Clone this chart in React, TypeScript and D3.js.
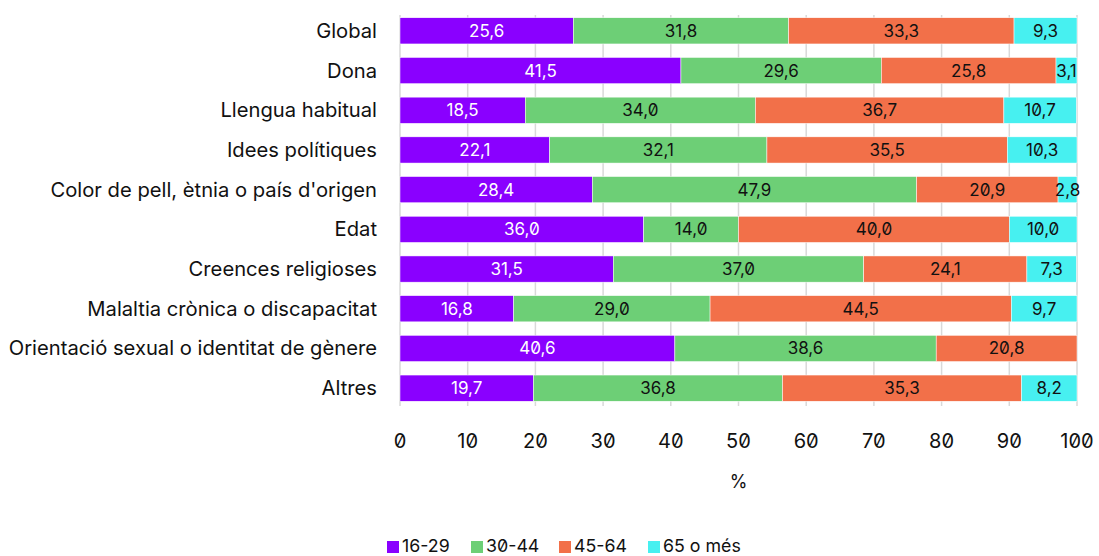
import React from "react";
import * as d3 from "d3";

const categories = [
  "Global",
  "Dona",
  "Llengua habitual",
  "Idees polítiques",
  "Color de pell, ètnia o país d'origen",
  "Edat",
  "Creences religioses",
  "Malaltia crònica o discapacitat",
  "Orientació sexual o identitat de gènere",
  "Altres",
];
const seriesNames = ["16-29", "30-44", "45-64", "65 o més"];
const s1629 = [25.6, 41.5, 18.5, 22.1, 28.4, 36.0, 31.5, 16.8, 40.6, 19.7];
const s3044 = [31.8, 29.6, 34.0, 32.1, 47.9, 14.0, 37.0, 29.0, 38.6, 36.8];
const s4564 = [33.3, 25.8, 36.7, 35.5, 20.9, 40.0, 24.1, 44.5, 20.8, 35.3];
const s65 = [9.3, 3.1, 10.7, 10.3, 2.8, 10.0, 7.3, 9.7, 0, 8.2];
const xTicks = [0, 10, 20, 30, 40, 50, 60, 70, 80, 90, 100];
const colors = ["#8a00ff", "#6dcf76", "#f27049", "#47f0f0"];
const labelColors = ["#ffffff", "#111111", "#111111", "#111111"];

const W = 1099;
const H = 556;
const M = { left: 400, right: 1077, top: 11, bottom: 408 };
const FONT = "Inter, 'DejaVu Sans', sans-serif";
const ZERO = { fontFeatureSettings: "'zero' 1" };

export default function App() {
  const x = d3.scaleLinear().domain([0, 100]).range([M.left, M.right]);
  const y = d3.scaleBand().domain(categories).range([M.top, M.bottom]).paddingInner(0.34).paddingOuter(0.17);
  const rows = categories.map((c, i) => ({ c, vals: [s1629[i], s3044[i], s4564[i], s65[i]] }));
  const fmt = (v: number) => v.toFixed(1).replace(".", ",");
  const legendStarts = [387, 471, 559, 648];

  return (
    <svg width={W} height={H} style={{ position: "absolute", left: 0, top: 0, background: "#fff" }}>
      {xTicks.map((t) => (
        <line key={"g" + t} x1={x(t)} x2={x(t)} y1={M.top + 4} y2={M.bottom - 2} stroke="#d9d9d9" strokeWidth={1.5} />
      ))}
      {rows.map((r) => {
        let acc = 0;
        const cy = (y(r.c) as number) + y.bandwidth() / 2;
        return (
          <g key={r.c}>
            {r.vals.map((v, k) => {
              const x0 = acc;
              acc += v;
              if (v <= 0) return null;
              const cx = x((x0 + acc) / 2);
              return (
                <g key={k}>
                  <rect x={x(x0)} y={y(r.c)} width={x(acc) - x(x0)} height={y.bandwidth()} fill={colors[k]} stroke="#ffffff" strokeWidth={0.5} />
                  <text x={cx} y={cy + 6} textAnchor="middle" fontFamily={FONT} fontSize={17} fill={labelColors[k]} style={ZERO}>
                    {fmt(v)}
                  </text>
                </g>
              );
            })}
            <text x={M.left - 23} y={cy + 7} textAnchor="end" fontFamily={FONT} fontSize={20.2} fill="#111">
              {r.c}
            </text>
          </g>
        );
      })}
      {xTicks.map((t) => (
        <text key={"t" + t} x={x(t)} y={448} textAnchor="middle" fontFamily={FONT} fontSize={20} fill="#111" style={ZERO}>
          {t}
        </text>
      ))}
      <text x={x(50)} y={488} textAnchor="middle" fontFamily={FONT} fontSize={18} fill="#111">
        %
      </text>
      {seriesNames.map((n, k) => (
        <g key={n}>
          <rect x={legendStarts[k]} y={541} width={12} height={12} fill={colors[k]} />
          <text x={legendStarts[k] + 15} y={552} fontFamily={FONT} fontSize={17.8} fill="#111" style={ZERO}>
            {n}
          </text>
        </g>
      ))}
    </svg>
  );
}
